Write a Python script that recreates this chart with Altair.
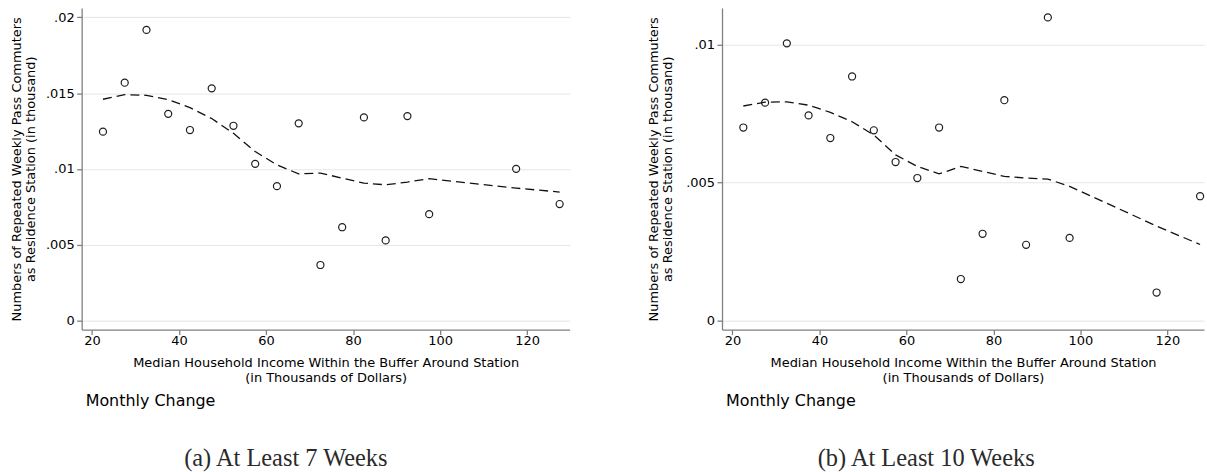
import altair as alt
import pandas as pd

# Median household income bins (thousands of dollars)
income = [22.5, 27.5, 32.5, 37.5, 42.5, 47.5, 52.5, 57.5, 62.5, 67.5,
          72.5, 77.5, 82.5, 87.5, 92.5, 97.5, 117.5, 127.5]

# Panel (a): At Least 7 Weeks
a_points = [0.01246, 0.01569, 0.01917, 0.01364, 0.01257, 0.01532, 0.01285, 0.01034, 0.00887,
            0.01301, 0.00367, 0.00616, 0.01340, 0.00529, 0.01349, 0.00702, 0.01001, 0.00769]
a_fit = [0.01460, 0.01490, 0.01486, 0.01458, 0.01405, 0.01333, 0.01235, 0.01115, 0.01027,
         0.00968, 0.00973, 0.00940, 0.00907, 0.00896, 0.00914, 0.00936, 0.00874, 0.00848]

# Panel (b): At Least 10 Weeks
b_points = [0.00700, 0.00790, 0.01005, 0.00744, 0.00662, 0.00885, 0.00690, 0.00575, 0.00517,
            0.00700, 0.00151, 0.00315, 0.00799, 0.00275, 0.01099, 0.00300, 0.00102, 0.00451]
b_fit = [0.00778, 0.00792, 0.00793, 0.00781, 0.00755, 0.00721, 0.00673, 0.00601, 0.00559,
         0.00532, 0.00559, 0.00541, 0.00523, 0.00517, 0.00513, 0.00487, 0.00343, 0.00276]

x_ticks = [20, 40, 60, 80, 100, 120]
a_yticks = [0, 0.005, 0.01, 0.015, 0.02]
b_yticks = [0, 0.005, 0.01]

y_title = ["Numbers of Repeated Weekly Pass Commuters", "as Residence Station (in thousand)"]
x_title = ["Median Household Income Within the Buffer Around Station", "(in Thousands of Dollars)"]
sub_label = "Monthly Change"
captions = ["(a) At Least 7 Weeks", "(b) At Least 10 Weeks"]

SANS = "DejaVu Sans"
SERIF = "Liberation Serif"
AXIS_GRAY = "#808080"
H = 323


def panel(points, fit, ydom, yticks, width, xdom, caption, title_pad):
    df = pd.DataFrame({"x": income, "y": points, "fit": fit})
    x_axis = alt.Axis(values=x_ticks, title=x_title, grid=False, tickSize=5,
                      labelPadding=0, titlePadding=9, titleLineHeight=15)
    y_axis = alt.Axis(values=yticks, title=y_title, grid=True, tickSize=5,
                      labelPadding=2.5, titlePadding=title_pad, titleLineHeight=14,
                      labelExpr="datum.value == 0 ? '0' : slice(format(datum.value, '~g'), 1)")
    xs = alt.Scale(domain=xdom, nice=False, zero=False)
    ys = alt.Scale(domain=ydom, nice=False, zero=False)
    pts = alt.Chart(df).mark_point(shape="circle", filled=False, size=50,
                                   strokeWidth=1.2, color="#1e1e1e", opacity=1).encode(
        x=alt.X("x:Q", scale=xs, axis=x_axis),
        y=alt.Y("y:Q", scale=ys, axis=y_axis),
    )
    line = alt.Chart(df).mark_line(color="#111111", strokeDash=[9, 5], strokeWidth=1.3).encode(
        x=alt.X("x:Q", scale=xs, axis=x_axis),
        y=alt.Y("fit:Q", scale=ys, axis=y_axis),
    )
    sub = alt.Chart(pd.DataFrame({"t": [sub_label]})).mark_text(
        font=SANS, fontSize=16, align="left", baseline="alphabetic", color="black"
    ).encode(x=alt.value(4), y=alt.value(400), text="t:N")
    cap = alt.Chart(pd.DataFrame({"t": [caption]})).mark_text(
        font=SERIF, fontSize=24.5, align="center", baseline="alphabetic", color="#2a2a2a"
    ).encode(x=alt.value(205), y=alt.value(459.7), text="t:N")
    return alt.layer(pts, line, sub, cap).properties(width=width, height=H)


left = panel(a_points, a_fit, [-0.00059, 0.02062], a_yticks, 490, [17.6, 129.8], captions[0], 8)
right = panel(b_points, b_fit, [-0.000324, 0.011334], b_yticks, 484, [17.6, 128.4], captions[1], 11)

chart = alt.hconcat(left, right, spacing=78).properties(
    padding={"left": 10, "top": 7, "right": 0, "bottom": 0}
).configure_view(stroke=None).configure_axis(
    domainColor=AXIS_GRAY, tickColor=AXIS_GRAY, domainWidth=1.3, tickWidth=1.3,
    gridColor="#e6e6e6", gridWidth=1,
    labelFont=SANS, labelFontSize=13, labelColor="black",
    titleFont=SANS, titleFontSize=13, titleFontWeight="normal", titleColor="black",
).configure_axisY(labelAngle=0)

chart.save("out.html", embed_options={"renderer": "svg", "actions": False})
